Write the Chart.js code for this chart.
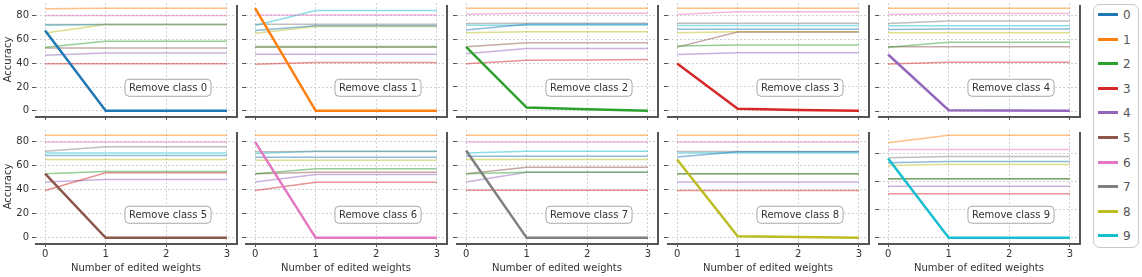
<!DOCTYPE html>
<html>
<head>
<meta charset="utf-8">
<script src="https://cdn.jsdelivr.net/npm/chart.js@4.4.1/dist/chart.umd.min.js"></script>
<style>
  body { margin: 0; background: #fff; font-family: "DejaVu Sans", sans-serif; }
  #wrap { position: relative; width: 1142px; height: 277px; overflow: hidden; }
  #wrap canvas { position: absolute; }
  #legend { position: absolute; left: 1093px; top: 4px; width: 46px; height: 244px;
            border: 1px solid #c8c8c8; border-radius: 7px; background: #fff; box-sizing: border-box; }
  .leg-item { position: absolute; left: 0; width: 46px; height: 16px; }
  .leg-line { position: absolute; left: 4px; top: 6px; width: 20px; height: 3px; }
  .leg-txt { position: absolute; left: 29px; top: 0; font-size: 12px; line-height: 16px; color: #555; }
</style>
</head>
<body>
<div id="wrap"><div id="legend"></div></div>
<script>
// --- DATA ---
const steps = [0, 1, 2, 3];
const classes = ['0', '1', '2', '3', '4', '5', '6', '7', '8', '9'];
const colors = ['#1f77b4', '#ff7f0e', '#2ca02c', '#d62728', '#9467bd',
                '#8c564b', '#e377c2', '#7f7f7f', '#bcbd22', '#17becf'];
const yTicks = [0, 20, 40, 60, 80];

// one row per class (0..9), values at 0..3 edited weights
const remove0 = [
  [67.4, 0, 0, 0], [85.6, 86.2, 86.2, 86.2], [53.3, 58.4, 58.4, 58.4], [39.6, 39.6, 39.6, 39.6],
  [46.6, 48.6, 48.6, 48.6], [52.8, 52.8, 52.8, 52.8], [80, 80, 80, 80], [72.4, 72.4, 72.4, 72.4],
  [65.4, 72.4, 72.4, 72.4], [71.9, 72.4, 72.4, 72.4]];
const remove1 = [
  [67.6, 71.6, 71.6, 71.6], [86.5, 0, 0, 0], [54.2, 54.2, 54.2, 54.2], [39.3, 40.7, 40.7, 40.7],
  [47.7, 47.7, 47.7, 47.7], [53.6, 53.6, 53.6, 53.6], [80.8, 80.8, 80.8, 80.8], [73, 73, 73, 73],
  [65.4, 71, 71, 71], [71.9, 84.5, 84.5, 84.5]];
const remove2 = [
  [67.6, 72.4, 72.4, 72.4], [85.9, 85.9, 85.9, 85.9], [53.6, 2.8, 1.4, 0], [39.3, 42.4, 42.6, 42.9],
  [47.7, 52.2, 52.2, 52.2], [53.6, 57, 57, 57], [80.8, 81.7, 81.7, 81.7], [73, 73.3, 73.3, 73.3],
  [65.4, 66.2, 66.2, 66.2], [71.6, 71.6, 71.6, 71.6]];
const remove3 = [
  [68.2, 68.2, 68.2, 68.2], [85.9, 85.9, 85.9, 85.9], [54.2, 55, 55, 55], [39.6, 1.7, 0.8, 0],
  [47.2, 48.6, 48.6, 48.6], [53.3, 66, 66, 66], [80.6, 82.8, 82.8, 82.8], [73.3, 73.3, 73.3, 73.3],
  [65.4, 66.2, 66.2, 66.2], [71.3, 71.3, 71.3, 71.3]];
const remove4 = [
  [68, 68.4, 68.4, 68.4], [85.9, 85.9, 85.9, 85.9], [53.3, 57.5, 57.5, 57.5], [39.3, 40.7, 40.7, 40.7],
  [47.2, 0.8, 0.4, 0.2], [53.6, 53.6, 53.6, 53.6], [80.6, 81.4, 81.4, 81.4], [73, 75.2, 75.2, 75.2],
  [65.4, 65.4, 65.4, 65.4], [71.3, 71.3, 71.3, 71.3]];
const remove5 = [
  [68.1, 68.1, 68.1, 68.1], [85, 85, 85, 85], [53, 54.9, 54.9, 54.9], [39.2, 53.8, 53.8, 53.8],
  [46.3, 48.3, 48.3, 48.3], [53.2, 0, 0, 0], [79.4, 79.4, 79.4, 79.4], [71.7, 75.3, 75.3, 75.3],
  [64.8, 64.8, 64.8, 64.8], [70.3, 70.3, 70.3, 70.3]];
const remove6 = [
  [66.8, 66.8, 66.8, 66.8], [85, 85, 85, 85], [53, 57.1, 57.1, 57.1], [39.2, 46.1, 46.1, 46.1],
  [46.3, 52.4, 52.4, 52.4], [53, 54.3, 54.3, 54.3], [79.4, 0, 0, 0], [71.2, 71.4, 71.4, 71.4],
  [64.3, 64.3, 64.3, 64.3], [69.8, 71.7, 71.7, 71.7]];
const remove7 = [
  [67.6, 67.6, 67.6, 67.6], [85, 85, 85, 85], [53, 54.3, 54.3, 54.3], [39.4, 39.4, 39.4, 39.4],
  [46.3, 54.3, 54.3, 54.3], [53, 58.5, 58.5, 58.5], [79.4, 79.4, 79.4, 79.4], [72.3, 0, 0, 0],
  [64.8, 64.8, 64.8, 64.8], [70.3, 71.7, 71.7, 71.7]];
const remove8 = [
  [67, 71.2, 71.2, 71.2], [85, 85, 85, 85], [53, 53, 53, 53], [39.2, 39.2, 39.2, 39.2],
  [46.3, 46.3, 46.3, 46.3], [53, 53, 53, 53], [79.4, 79.4, 79.4, 79.4], [71.4, 71.4, 71.4, 71.4],
  [64.8, 1.4, 0.7, 0], [70.3, 70.3, 70.3, 70.3]];
const remove9 = [
  [53.6, 54.5, 54.5, 54.5], [67.9, 73.3, 73.3, 73.3], [42.1, 42.1, 42.1, 42.1], [31.4, 31.4, 31.4, 31.4],
  [36.9, 36.9, 36.9, 36.9], [42.1, 42.1, 42.1, 42.1], [63.1, 63.1, 63.1, 63.1], [57.1, 58, 58, 58],
  [51.7, 52.4, 52.4, 52.4], [56.7, 0, 0, 0]];

const panels = [remove0, remove1, remove2, remove3, remove4, remove5, remove6, remove7, remove8, remove9];

// --- LAYOUT ---
const plotLeft = [36, 246, 457, 668, 879];
const plotW = 200;
const plotTop = [3, 130];
const plotH = 113;
const FONT = { family: 'DejaVu Sans', size: 10 };

// dark frame on bottom/right + "Remove class N" box
const framePlugin = {
  id: 'frame',
  afterDatasetsDraw(chart) {
    const { ctx, chartArea: a } = chart;
    const label = 'Remove class ' + chart.options.plugins.frame.cls;
    ctx.save();
    ctx.font = '10px "DejaVu Sans"';
    const tw = ctx.measureText(label).width;
    const bw = tw + 8, bh = 17;
    const cx = a.left + 0.66 * (a.right - a.left);
    const cy = a.top + 0.75 * (a.bottom - a.top);
    ctx.beginPath();
    ctx.roundRect(cx - bw / 2, cy - bh / 2, bw, bh, 4);
    ctx.fillStyle = 'rgba(255,255,255,0.85)';
    ctx.fill();
    ctx.strokeStyle = '#a8a8a8';
    ctx.lineWidth = 1;
    ctx.stroke();
    ctx.fillStyle = '#333';
    ctx.textAlign = 'center';
    ctx.textBaseline = 'middle';
    ctx.fillText(label, cx, cy + 0.5);
    ctx.restore();
  },
  afterDraw(chart) {
    const { ctx, chartArea: a } = chart;
    ctx.save();
    ctx.strokeStyle = '#555';
    ctx.lineWidth = 2;
    ctx.beginPath();
    ctx.moveTo(a.left - 1, a.bottom + 1);
    ctx.lineTo(a.right + 1, a.bottom + 1);
    ctx.lineTo(a.right + 1, a.top + 2);
    ctx.stroke();
    ctx.restore();
  }
};

function yRange(rows) {
  let lo = Infinity, hi = -Infinity;
  rows.forEach(r => r.forEach(v => { lo = Math.min(lo, v); hi = Math.max(hi, v); }));
  const m = (hi - lo) * 0.05;
  return [lo - m, hi + m];
}

const wrap = document.getElementById('wrap');

panels.forEach((rows, p) => {
  const r = Math.floor(p / 5), c = p % 5;
  const yAxisW = c === 0 ? 36 : 8;
  const xAxisH = r === 0 ? 6 : 34;
  const cv = document.createElement('canvas');
  cv.width = yAxisW + plotW + 4;
  cv.height = 3 + plotH + xAxisH;
  cv.style.left = (plotLeft[c] - yAxisW) + 'px';
  cv.style.top = (plotTop[r] - 3) + 'px';
  wrap.appendChild(cv);

  const [ymin, ymax] = yRange(rows);
  const datasets = rows.map((vals, k) => ({
    label: classes[k],
    data: steps.map((s, i) => ({ x: s, y: vals[i] })),
    borderColor: k === p ? colors[k] : colors[k] + '80',
    borderWidth: k === p ? 2.5 : 1.5,
    pointRadius: 0,
    tension: 0,
    order: k === p ? 0 : 1
  }));

  const grid = {
    color: '#c4c4c4', lineWidth: 0.8, drawTicks: true, tickLength: 4,
    tickColor: '#555', tickWidth: 1, tickBorderDash: []
  };

  new Chart(cv, {
    type: 'line',
    data: { datasets },
    plugins: [framePlugin],
    options: {
      responsive: false, animation: false, devicePixelRatio: 1,
      layout: { padding: { top: 3, right: 4, left: 0, bottom: 0 } },
      plugins: { legend: { display: false }, tooltip: { enabled: false }, frame: { cls: classes[p] } },
      scales: {
        x: {
          type: 'linear', min: -0.15, max: 3.15,
          ticks: { stepSize: 1, includeBounds: false, display: r === 1, font: FONT, color: '#333', padding: 1 },
          grid, border: { display: false, dash: [2, 2] },
          title: { display: r === 1, text: 'Number of edited weights', font: FONT, color: '#333', padding: { top: 0, bottom: 3 } },
          afterFit: s => { s.height = xAxisH; s.paddingLeft = 0; s.paddingRight = 0; }
        },
        y: {
          type: 'linear', min: ymin, max: ymax,
          afterBuildTicks: s => { s.ticks = yTicks.filter(v => v <= ymax).map(v => ({ value: v })); },
          ticks: { display: c === 0, font: FONT, color: '#333', padding: 3 },
          grid, border: { display: false, dash: [2, 2] },
          title: { display: c === 0, text: 'Accuracy', font: FONT, color: '#333', padding: 2 },
          afterFit: s => { s.width = yAxisW; s.paddingTop = 0; s.paddingBottom = 0; }
        }
      }
    }
  });
});

// --- LEGEND ---
const legend = document.getElementById('legend');
legend.innerHTML = classes.map((name, i) => `
  <div class="leg-item" style="top:${2 + i * 24.6}px">
    <div class="leg-line" style="background:${colors[i]}"></div>
    <div class="leg-txt">${name}</div>
  </div>`).join('');
</script>
</body>
</html>
